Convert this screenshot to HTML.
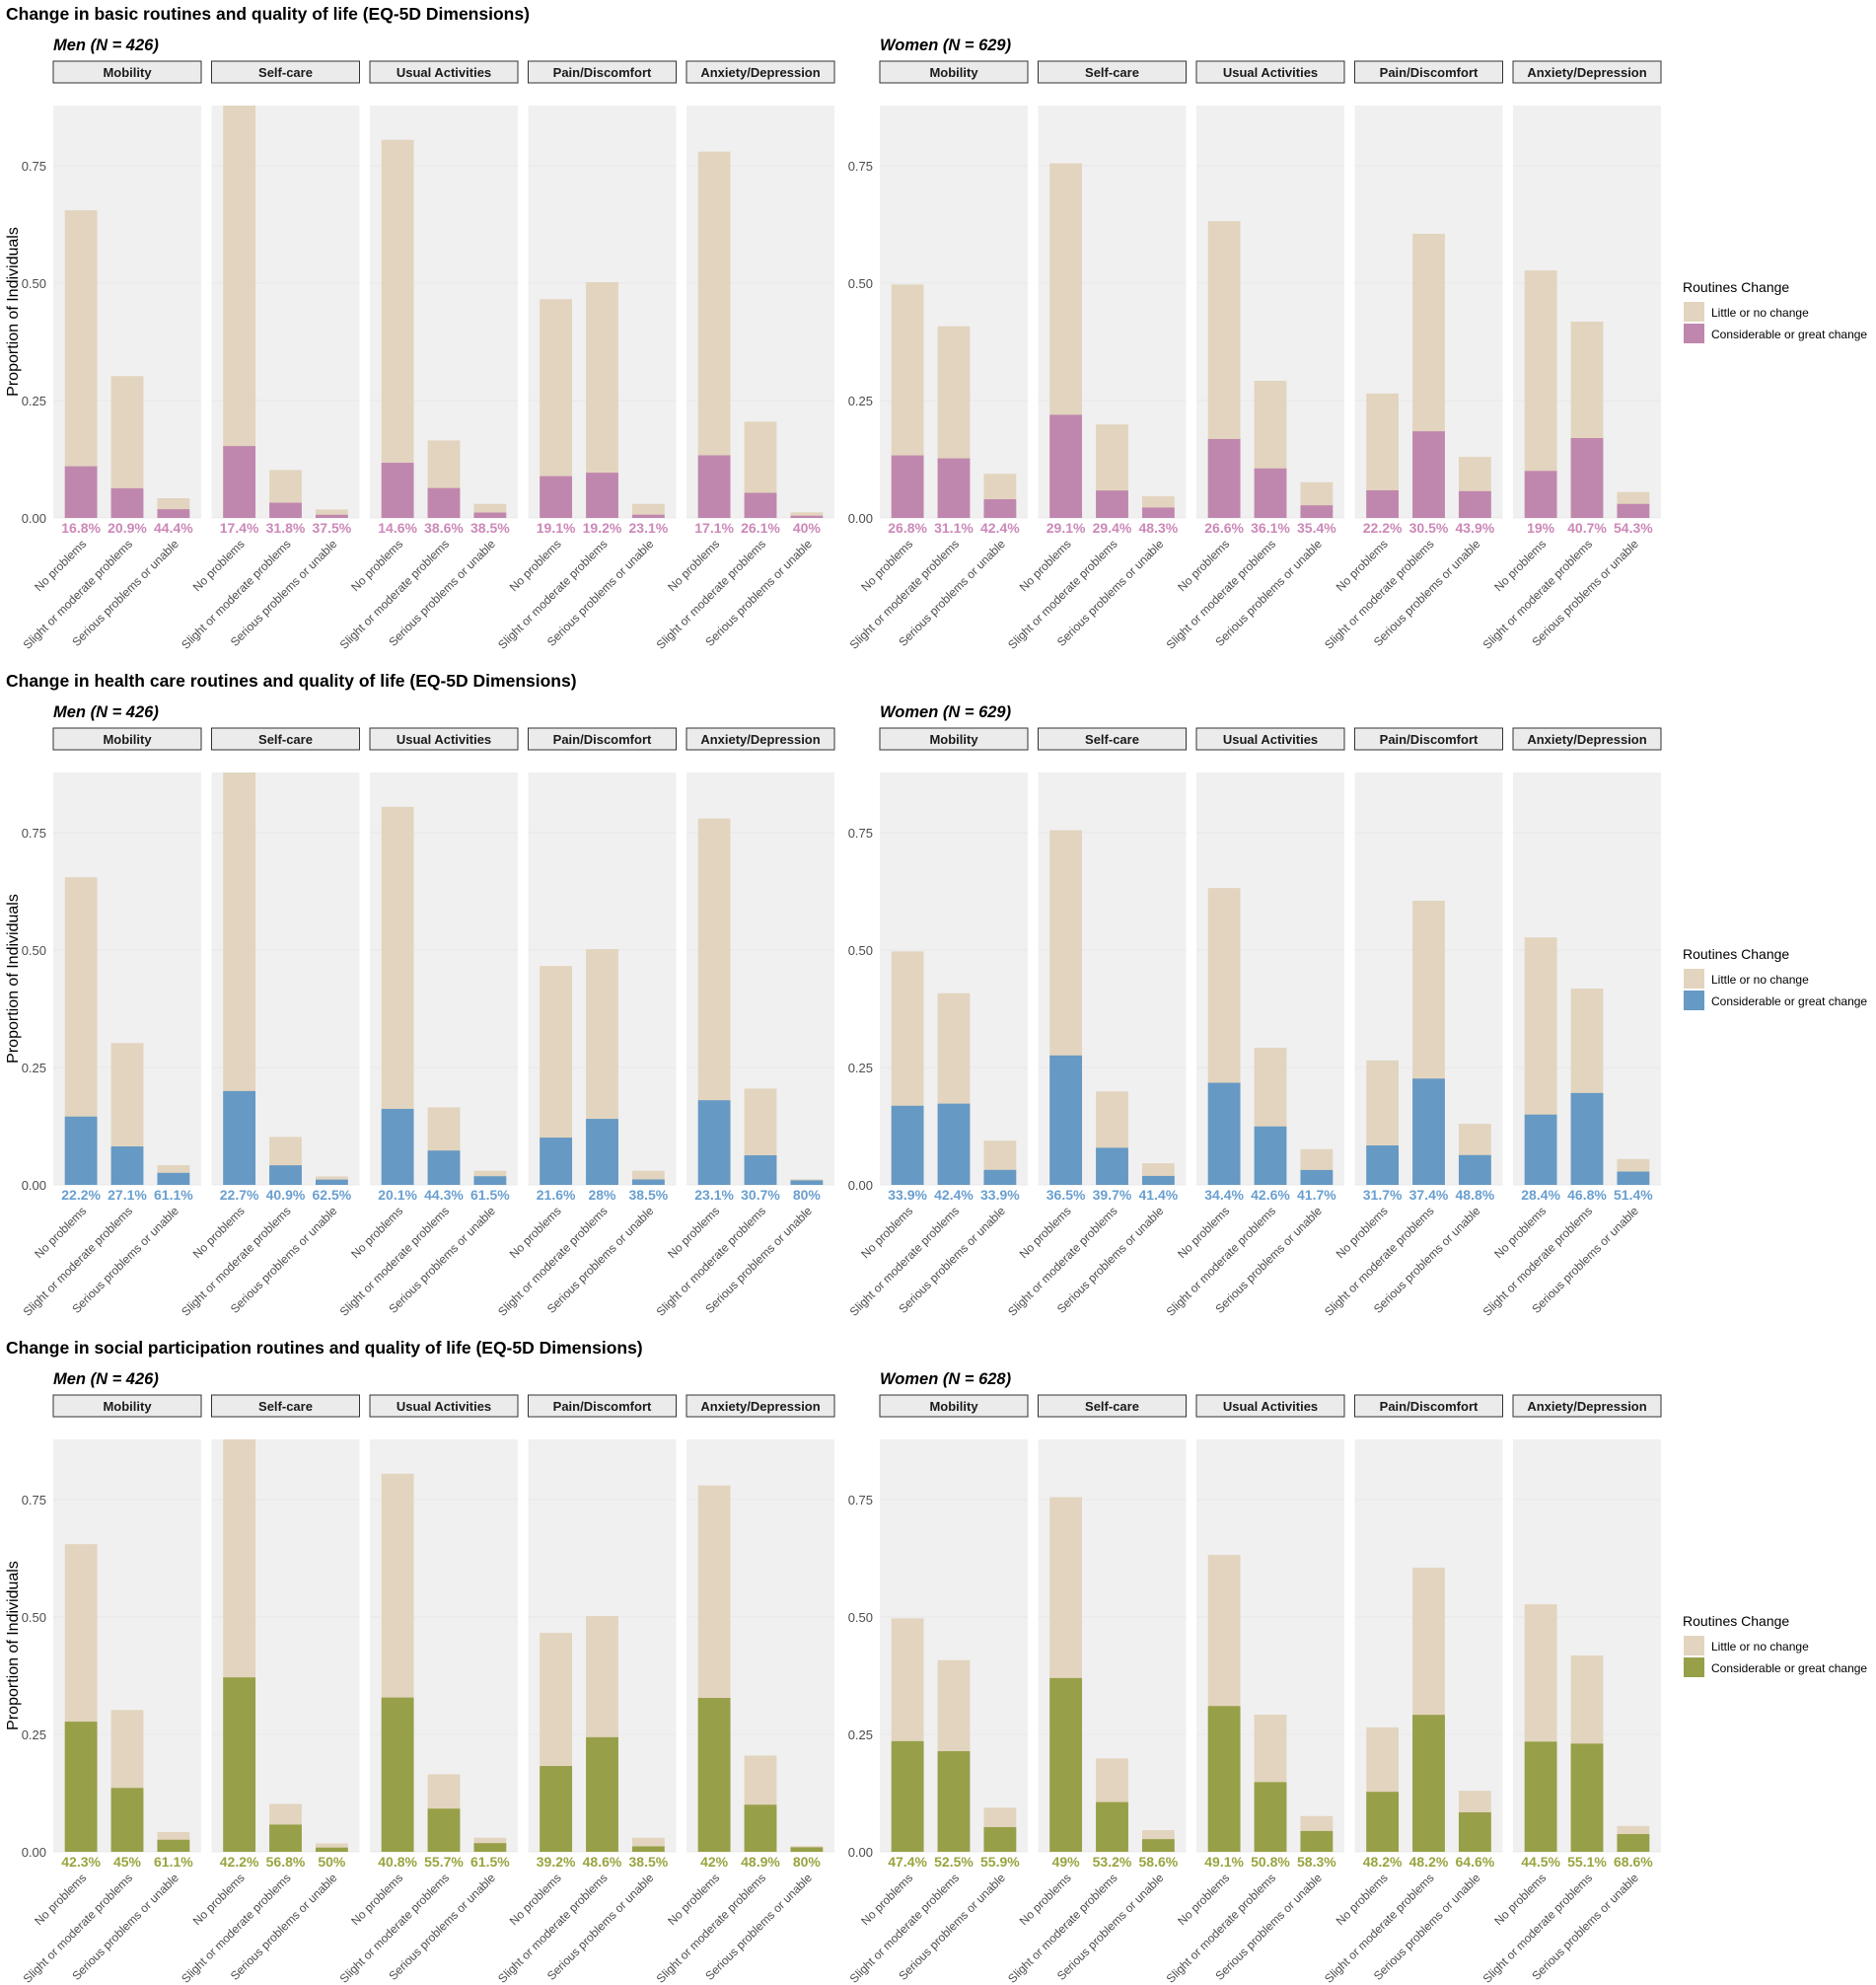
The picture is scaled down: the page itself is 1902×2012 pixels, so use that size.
<!DOCTYPE html>
<html><head><meta charset="utf-8">
<style>
body{margin:0;background:#fff;}
svg{display:block;font-family:"Liberation Sans",Arial,sans-serif;}
</style></head>
<body>
<svg id="chart" width="1902" height="2012" viewBox="0 0 1902 2012"></svg>
<script>
const dimensions = ["Mobility","Self-care","Usual Activities","Pain/Discomfort","Anxiety/Depression"];
const categories = ["No problems","Slight or moderate problems","Serious problems or unable"];
const yTicks = [0,0.25,0.5,0.75];
const yTickLabels = ["0.00","0.25","0.50","0.75"];
const sectionTitles = ["Change in basic routines and quality of life (EQ-5D Dimensions)","Change in health care routines and quality of life (EQ-5D Dimensions)","Change in social participation routines and quality of life (EQ-5D Dimensions)"];
const menLabels = ["Men (N = 426)","Men (N = 426)","Men (N = 426)"];
const womenLabels = ["Women (N = 629)","Women (N = 629)","Women (N = 628)"];
const legendLabels = ["Little or no change","Considerable or great change"];
// total proportion per dimension x category
const menTotals = [[0.655,0.302,0.042],[0.88,0.102,0.018],[0.805,0.165,0.030],[0.466,0.502,0.030],[0.78,0.205,0.012]];
const womenTotals = [[0.497,0.408,0.094],[0.755,0.199,0.046],[0.632,0.292,0.076],[0.265,0.605,0.13],[0.527,0.418,0.055]];
// percent with considerable/great change
const s1Men = [[16.8,20.9,44.4],[17.4,31.8,37.5],[14.6,38.6,38.5],[19.1,19.2,23.1],[17.1,26.1,40]];
const s1Women = [[26.8,31.1,42.4],[29.1,29.4,48.3],[26.6,36.1,35.4],[22.2,30.5,43.9],[19,40.7,54.3]];
const s2Men = [[22.2,27.1,61.1],[22.7,40.9,62.5],[20.1,44.3,61.5],[21.6,28,38.5],[23.1,30.7,80]];
const s2Women = [[33.9,42.4,33.9],[36.5,39.7,41.4],[34.4,42.6,41.7],[31.7,37.4,48.8],[28.4,46.8,51.4]];
const s3Men = [[42.3,45,61.1],[42.2,56.8,50],[40.8,55.7,61.5],[39.2,48.6,38.5],[42,48.9,80]];
const s3Women = [[47.4,52.5,55.9],[49,53.2,58.6],[49.1,50.8,58.3],[48.2,48.2,64.6],[44.5,55.1,68.6]];

const NS="http://www.w3.org/2000/svg";
const svg=document.getElementById('chart');
function mk(tag,attrs,parent,text){const e=document.createElementNS(NS,tag);for(const k in attrs)e.setAttribute(k,attrs[k]);if(text!==undefined)e.textContent=text;(parent||svg).appendChild(e);return e;}

const sections=[
 {men:s1Men,women:s1Women,fill:"#c087ae",txt:"#cc88b8"},
 {men:s2Men,women:s2Women,fill:"#6699c4",txt:"#6a9fcf"},
 {men:s3Men,women:s3Women,fill:"#979f48",txt:"#9aa43f"}];
const SECT_H=676, PW=150, PSTEP=160.5, PTOP=107, PZERO=525, YMAX=0.878;
const UNIT=PW/3.2, BW=0.7*UNIT;
function yS(v,off){return off+PZERO-(v/YMAX)*(PZERO-PTOP);}
function xS(i,px){return px+(0.6+i)*UNIT;}

sections.forEach((sec,si)=>{
 const off=si*SECT_H;
 const g=mk('g',{},svg);
 
 
 const t=mk('text',{x:6,y:off+20,'font-size':17.5,'font-weight':'bold',fill:'#000'},g,sectionTitles[si]);
 
 
 const yt=mk('text',{transform:`translate(18,${off+316}) rotate(-90)`,'text-anchor':'middle','font-size':16,fill:'#000'},g,'Proportion of Individuals');
 
 
 [[54,sec.men,menTotals,menLabels[si]],[892,sec.women,womenTotals,womenLabels[si]]].forEach(([gx,pcts,totals,lab],gi)=>{
  const gl=mk('text',{x:gx,y:off+51,'font-size':16.5,'font-weight':'bold','font-style':'italic',fill:'#000'},g,lab);
  
  
  yTicks.forEach((v,k)=>{
   const tl=mk('text',{x:gx-7,y:yS(v,off)+5,'text-anchor':'end','font-size':13,fill:'#4d4d4d'},g,yTickLabels[k]);
   
   
  });
  dimensions.forEach((d,di)=>{
   const px=gx+di*PSTEP;
   const sr=mk('rect',{x:px,y:off+62,width:PW,height:22,fill:'#ebebeb',stroke:'#333','stroke-width':1},g);
   
   
   const st=mk('text',{x:px+PW/2,y:off+78,'text-anchor':'middle','font-size':13,'font-weight':'bold',fill:'#1a1a1a'},g,d);
   
   
   const bg=mk('rect',{x:px,y:off+PTOP,width:PW,height:PZERO-PTOP,fill:'#f0f0f0'},g);
   
   
   yTicks.forEach(v=>{mk('line',{x1:px,x2:px+PW,y1:yS(v,off),y2:yS(v,off),stroke:'#e6e6e6','stroke-width':0.8},g);});
   categories.forEach((c,ci)=>{
    const tot=totals[di][ci], p=pcts[di][ci], ch=tot*p/100;
    const cx=xS(ci,px);
    const b1=mk('rect',{x:cx-BW/2,y:yS(Math.min(tot,YMAX),off),width:BW,height:yS(0,off)-yS(Math.min(tot,YMAX),off),fill:'#e2d4be'},g);
    
    
    const b2=mk('rect',{x:cx-BW/2,y:yS(ch,off),width:BW,height:yS(0,off)-yS(ch,off),fill:sec.fill},g);
    
    
    const pl=mk('text',{x:cx,y:off+540,'text-anchor':'middle','font-size':14,'font-weight':'bold',fill:sec.txt},g,p+'%');
    
    
    const cl=mk('text',{transform:`translate(${cx+6},${off+552}) rotate(-45)`,'text-anchor':'end','font-size':12,fill:'#4d4d4d'},g,c);
    
    
   });
  });
 });
 const lt=mk('text',{x:1706,y:off+296,'font-size':14,fill:'#000'},g,'Routines Change');
 
 
 [['#e2d4be',0],[sec.fill,1]].forEach(([col,k])=>{
  const r=mk('rect',{x:1707,y:off+306+k*22,width:21,height:20,fill:col},g);
  
  
  const lx=mk('text',{x:1735,y:off+321+k*22,'font-size':12,fill:'#000'},g,legendLabels[k]);
  
  
 });
});
</script>
</body></html>
